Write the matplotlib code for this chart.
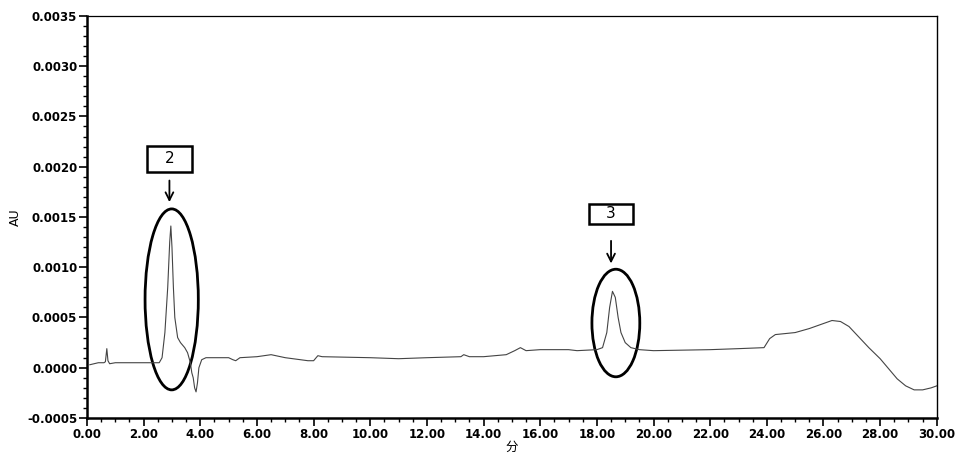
import matplotlib
matplotlib.use("Agg")
import matplotlib.pyplot as plt
from matplotlib.patches import Ellipse, Rectangle
from matplotlib.ticker import MultipleLocator, FormatStrFormatter

# Chromatogram trace (time in min, absorbance in AU)
time_min = [0.1, 0.4, 0.6, 0.65, 0.7, 0.74, 0.8, 1.0, 2.0, 2.55, 2.65, 2.75, 2.85, 2.92,
            2.96, 3.0, 3.05, 3.1, 3.2, 3.3, 3.45, 3.55, 3.65, 3.7, 3.75, 3.8, 3.85, 3.9,
            3.95, 4.05, 4.2, 5.0, 5.15, 5.25, 5.4, 6.0, 6.5, 7.0, 7.8, 8.0, 8.15, 8.3,
            10.0, 11.0, 12.0, 13.2, 13.3, 13.5, 14.0, 14.8, 15.1, 15.3, 15.5, 16.0, 17.0,
            17.3, 18.0, 18.2, 18.35, 18.45, 18.55, 18.65, 18.75, 18.85, 19.0, 19.2, 19.5,
            20.0, 22.0, 23.0, 23.9, 24.1, 24.3, 25.0, 25.5, 26.0, 26.3, 26.6, 26.9, 27.2,
            27.6, 28.0, 28.3, 28.6, 28.9, 29.2, 29.5, 29.8, 30.0]
absorb_e4 = [0.3, 0.5, 0.5, 0.6, 1.9, 0.7, 0.4, 0.5, 0.5, 0.5, 1.0, 3.5, 8.0, 12.5,
             14.1, 12.0, 8.0, 5.0, 3.0, 2.5, 2.0, 1.5, 0.5, -0.5, -1.0, -2.0, -2.4, -1.5,
             0.0, 0.8, 1.0, 1.0, 0.8, 0.7, 1.0, 1.1, 1.3, 1.0, 0.7, 0.7, 1.2, 1.1,
             1.0, 0.9, 1.0, 1.1, 1.3, 1.1, 1.1, 1.3, 1.7, 2.0, 1.7, 1.8, 1.8,
             1.7, 1.8, 2.0, 3.5, 6.0, 7.6, 7.0, 5.0, 3.5, 2.5, 2.0, 1.8,
             1.7, 1.8, 1.9, 2.0, 2.9, 3.3, 3.5, 3.9, 4.4, 4.7, 4.6, 4.1, 3.2,
             2.0, 0.9, -0.1, -1.1, -1.8, -2.2, -2.2, -2.0, -1.8]
absorb = [v * 1e-4 for v in absorb_e4]

# Peak annotations
peak_labels = ["2", "3"]
box_x = [(2.12, 3.71), (17.72, 19.27)]
box_y = [(0.00195, 0.00221), (0.00143, 0.00163)]
arrow_from = [(2.91, 0.00189), (18.5, 0.00129)]
arrow_to = [(2.91, 0.00162), (18.5, 0.00101)]
ellipse_center = [(2.99, 0.00068), (18.67, 0.000445)]
ellipse_size = [(1.88, 0.0018), (1.69, 0.00107)]

plt.rcParams['font.family'] = ['DejaVu Sans', 'Noto Sans CJK SC']
fig = plt.figure(figsize=(9.57, 4.58), dpi=100)
ax = fig.add_axes([0.0909, 0.0873, 0.888, 0.878])

ax.plot(time_min, absorb, color="#444444", lw=0.8)

ax.set_xlim(0, 30)
ax.set_ylim(-0.0005, 0.0035)
ax.xaxis.set_major_locator(MultipleLocator(2))
ax.xaxis.set_minor_locator(MultipleLocator(0.5))
ax.yaxis.set_major_locator(MultipleLocator(0.0005))
ax.yaxis.set_minor_locator(MultipleLocator(0.0001))
ax.xaxis.set_major_formatter(FormatStrFormatter("%.2f"))
ax.yaxis.set_major_formatter(FormatStrFormatter("%.4f"))
ax.tick_params(which="major", length=6, width=1.2, labelsize=8.5, direction="out", pad=1)
ax.tick_params(which="minor", length=3, width=1.0, direction="out")
for lab in ax.get_xticklabels() + ax.get_yticklabels():
    lab.set_fontweight("bold")

ax.spines["left"].set_linewidth(1.8)
ax.spines["bottom"].set_linewidth(1.8)
ax.spines["top"].set_linewidth(0.9)
ax.spines["right"].set_linewidth(1.0)

ax.set_xlabel("分", family=['Noto Sans CJK SC', 'DejaVu Sans'], fontsize=9, labelpad=0)
ax.set_ylabel("AU", fontsize=9, labelpad=4)

for lbl, bx, by, af, at, ec, es in zip(peak_labels, box_x, box_y, arrow_from, arrow_to,
                                        ellipse_center, ellipse_size):
    ax.add_patch(Ellipse(ec, es[0], es[1], fill=False, lw=2.0, color="black", clip_on=False))
    ax.add_patch(Rectangle((bx[0], by[0]), bx[1] - bx[0], by[1] - by[0], fill=False,
                           lw=1.8, ec="black", clip_on=False))
    ax.text((bx[0] + bx[1]) / 2, (by[0] + by[1]) / 2, lbl, ha="center", va="center",
            fontsize=11)
    ax.annotate("", xy=at, xytext=af,
                arrowprops=dict(arrowstyle="->", lw=1.3, color="black",
                                mutation_scale=14))

fig.savefig("out.png", dpi=100)
